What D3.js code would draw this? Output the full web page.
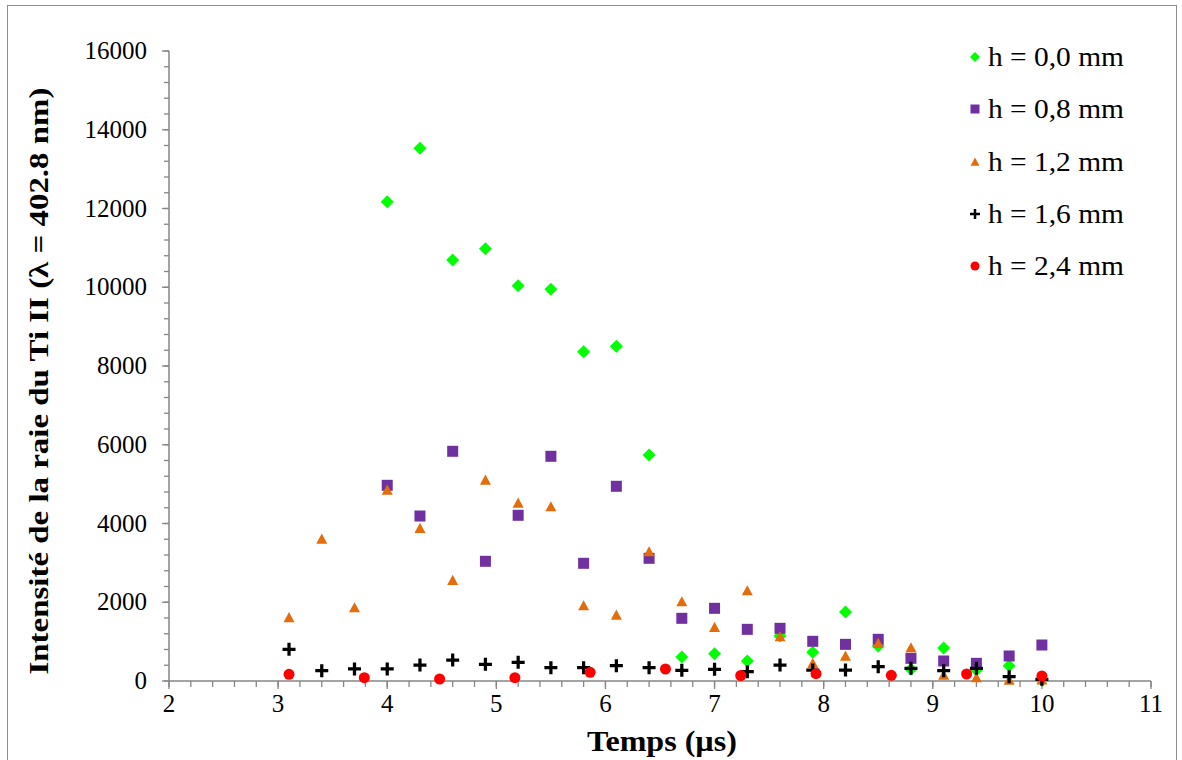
<!DOCTYPE html>
<html>
<head>
<meta charset="utf-8">
<script src="https://cdn.jsdelivr.net/npm/d3@7"></script>
<style>
  html, body { margin: 0; padding: 0; background: #fff; }
  svg { display: block; }
</style>
</head>
<body>
<svg id="chart" width="1182" height="760"></svg>
<script>
// ---- Data ----
const xTicks = [2, 3, 4, 5, 6, 7, 8, 9, 10, 11];
const yTicks = [0, 2000, 4000, 6000, 8000, 10000, 12000, 14000, 16000];

const seriesNames = ["h = 0,0 mm", "h = 0,8 mm", "h = 1,2 mm", "h = 1,6 mm", "h = 2,4 mm"];

const x00 = [4.0, 4.3, 4.6, 4.9, 5.2, 5.5, 5.8, 6.1, 6.4, 6.7, 7.0, 7.3, 7.6, 7.9, 8.2, 8.5, 8.8, 9.1, 9.4, 9.7, 10.0];
const y00 = [12170, 13530, 10690, 10980, 10040, 9950, 8360, 8500, 5740, 610, 694, 508, 1143, 729, 1753, 890, 297, 838, 280, 389, 20];

const x08 = [4.0, 4.3, 4.6, 4.9, 5.2, 5.5, 5.8, 6.1, 6.4, 6.7, 7.0, 7.3, 7.6, 7.9, 8.2, 8.5, 8.8, 9.1, 9.4, 9.7, 10.0];
const y08 = [4970, 4190, 5834, 3040, 4208, 5707, 2989, 4945, 3116, 1592, 1846, 1312, 1338, 1008, 931, 1059, 576, 508, 449, 635, 914];

const x12 = [3.1, 3.4, 3.7, 4.0, 4.3, 4.6, 4.9, 5.2, 5.5, 5.8, 6.1, 6.4, 6.7, 7.0, 7.3, 7.6, 7.9, 8.2, 8.5, 8.8, 9.1, 9.4, 9.7, 10.0];
const y12 = [1610, 3607, 1862, 4851, 3878, 2560, 5105, 4521, 4427, 1913, 1676, 3284, 2015, 1363, 2294, 1126, 449, 635, 957, 846, 152, 84, 25, 30];

const x16 = [3.1, 3.4, 3.7, 4.0, 4.3, 4.6, 4.9, 5.2, 5.5, 5.8, 6.1, 6.4, 6.7, 7.0, 7.3, 7.6, 7.9, 8.2, 8.5, 8.8, 9.1, 9.4, 9.7, 10.0];
const y16 = [805, 262, 305, 305, 406, 533, 424, 475, 338, 338, 389, 338, 271, 297, 237, 406, 279, 279, 364, 322, 262, 322, 110, 42];

const x24 = [3.1, 3.79, 4.48, 5.17, 5.86, 6.55, 7.24, 7.93, 8.62, 9.31, 10.0];
const y24 = [170, 84, 51, 84, 221, 305, 140, 185, 145, 178, 127];

const seriesColors = ["#00FF00", "#7030A0", "#E46C0A", "#000000", "#FF0000"];

// ---- Chart ----
const svg = d3.select("#chart");
const serif = "'Liberation Serif', 'Times New Roman', serif";

// outer border
svg.append("rect").attr("x", 7.5).attr("y", 5.5).attr("width", 1169).attr("height", 770)
  .attr("fill", "none").attr("stroke", "#8c8c8c").attr("stroke-width", 1);

const x = d3.scaleLinear().domain([2, 11]).range([169, 1151]);
const y = d3.scaleLinear().domain([0, 16000]).range([681, 51]);
const axisColor = "#868686";

// minor ticks
const xMinor = d3.range(2, 11.0001, 0.2).map(v => +v.toFixed(2));
const yMinor = d3.range(0, 16001, 400);

const gx = svg.append("g");
gx.selectAll("line.minor").data(xMinor).join("line")
  .attr("x1", d => x(d)).attr("x2", d => x(d)).attr("y1", y(0)).attr("y2", y(0) + 6)
  .attr("stroke", axisColor).attr("stroke-width", 1.3);
gx.selectAll("line.major").data(xTicks).join("line")
  .attr("x1", d => x(d)).attr("x2", d => x(d)).attr("y1", y(0)).attr("y2", y(0) + 8)
  .attr("stroke", axisColor).attr("stroke-width", 1.3);
gx.append("line").attr("x1", x(2)).attr("x2", x(11)).attr("y1", y(0)).attr("y2", y(0))
  .attr("stroke", axisColor).attr("stroke-width", 1.5);
gx.selectAll("text").data(xTicks).join("text")
  .attr("x", d => x(d)).attr("y", 712)
  .attr("text-anchor", "middle").attr("font-family", serif).attr("font-size", 25)
  .text(d => d);

const gy = svg.append("g");
gy.selectAll("line.minor").data(yMinor).join("line")
  .attr("x1", x(2) - 5).attr("x2", x(2)).attr("y1", d => y(d)).attr("y2", d => y(d))
  .attr("stroke", axisColor).attr("stroke-width", 1.3);
gy.selectAll("line.major").data(yTicks).join("line")
  .attr("x1", x(2) - 7).attr("x2", x(2)).attr("y1", d => y(d)).attr("y2", d => y(d))
  .attr("stroke", axisColor).attr("stroke-width", 1.3);
gy.append("line").attr("x1", x(2)).attr("x2", x(2)).attr("y1", y(0)).attr("y2", y(16000))
  .attr("stroke", axisColor).attr("stroke-width", 1.5);
gy.selectAll("text").data(yTicks).join("text")
  .attr("x", 147).attr("y", d => y(d) + 8)
  .attr("text-anchor", "end").attr("font-family", serif).attr("font-size", 25)
  .text(d => d);

// axis titles
svg.append("text").attr("x", 662).attr("y", 751).attr("text-anchor", "middle")
  .attr("font-family", serif).attr("font-size", 29).attr("font-weight", "bold")
  .attr("textLength", 150).attr("lengthAdjust", "spacingAndGlyphs")
  .text("Temps (µs)");
svg.append("text").attr("transform", "translate(48,381) rotate(-90)").attr("text-anchor", "middle")
  .attr("font-family", serif).attr("font-size", 27).attr("font-weight", "bold")
  .attr("textLength", 587).attr("lengthAdjust", "spacingAndGlyphs")
  .text("Intensité de la raie du Ti II (λ = 402.8 nm)");

// marker drawing
function marker(g, type, color, s) {
  if (type === 0) { // diamond
    g.append("path").attr("d", `M0,${-s}L${s},0L0,${s}L${-s},0Z`).attr("fill", color);
  } else if (type === 1) { // square
    g.append("rect").attr("x", -s).attr("y", -s).attr("width", 2 * s).attr("height", 2 * s).attr("fill", color);
  } else if (type === 2) { // triangle
    g.append("path").attr("d", `M0,${-s}L${s},${s * 0.85}L${-s},${s * 0.85}Z`).attr("fill", color);
  } else if (type === 3) { // plus
    g.append("path").attr("d", `M${-s},0H${s}M0,${-s}V${s}`).attr("stroke", color)
      .attr("stroke-width", Math.max(2.2, s * 0.5)).attr("fill", "none");
  } else { // circle
    g.append("circle").attr("r", s).attr("fill", color);
  }
}

const allSeries = [
  { xs: x00, ys: y00, size: 6.5 },
  { xs: x08, ys: y08, size: 5.5 },
  { xs: x12, ys: y12, size: 5.5 },
  { xs: x16, ys: y16, size: 6.5 },
  { xs: x24, ys: y24, size: 5.5 }
];

allSeries.forEach((s, i) => {
  const g = svg.append("g");
  s.xs.forEach((xv, j) => {
    const m = g.append("g").attr("transform", `translate(${x(xv)},${y(s.ys[j])})`);
    marker(m, i, seriesColors[i], s.size);
  });
});

// legend
const legendY = [57, 109, 162, 214, 266];
const lg = svg.append("g");
seriesNames.forEach((name, i) => {
  const m = lg.append("g").attr("transform", `translate(975,${legendY[i]})`);
  marker(m, i, seriesColors[i], [5, 4.5, 4.5, 5, 4.5][i]);
  lg.append("text").attr("x", 988).attr("y", legendY[i] + 9)
    .attr("font-family", serif).attr("font-size", 28)
    .attr("textLength", 136).attr("lengthAdjust", "spacingAndGlyphs").text(name);
});
</script>
</body>
</html>
